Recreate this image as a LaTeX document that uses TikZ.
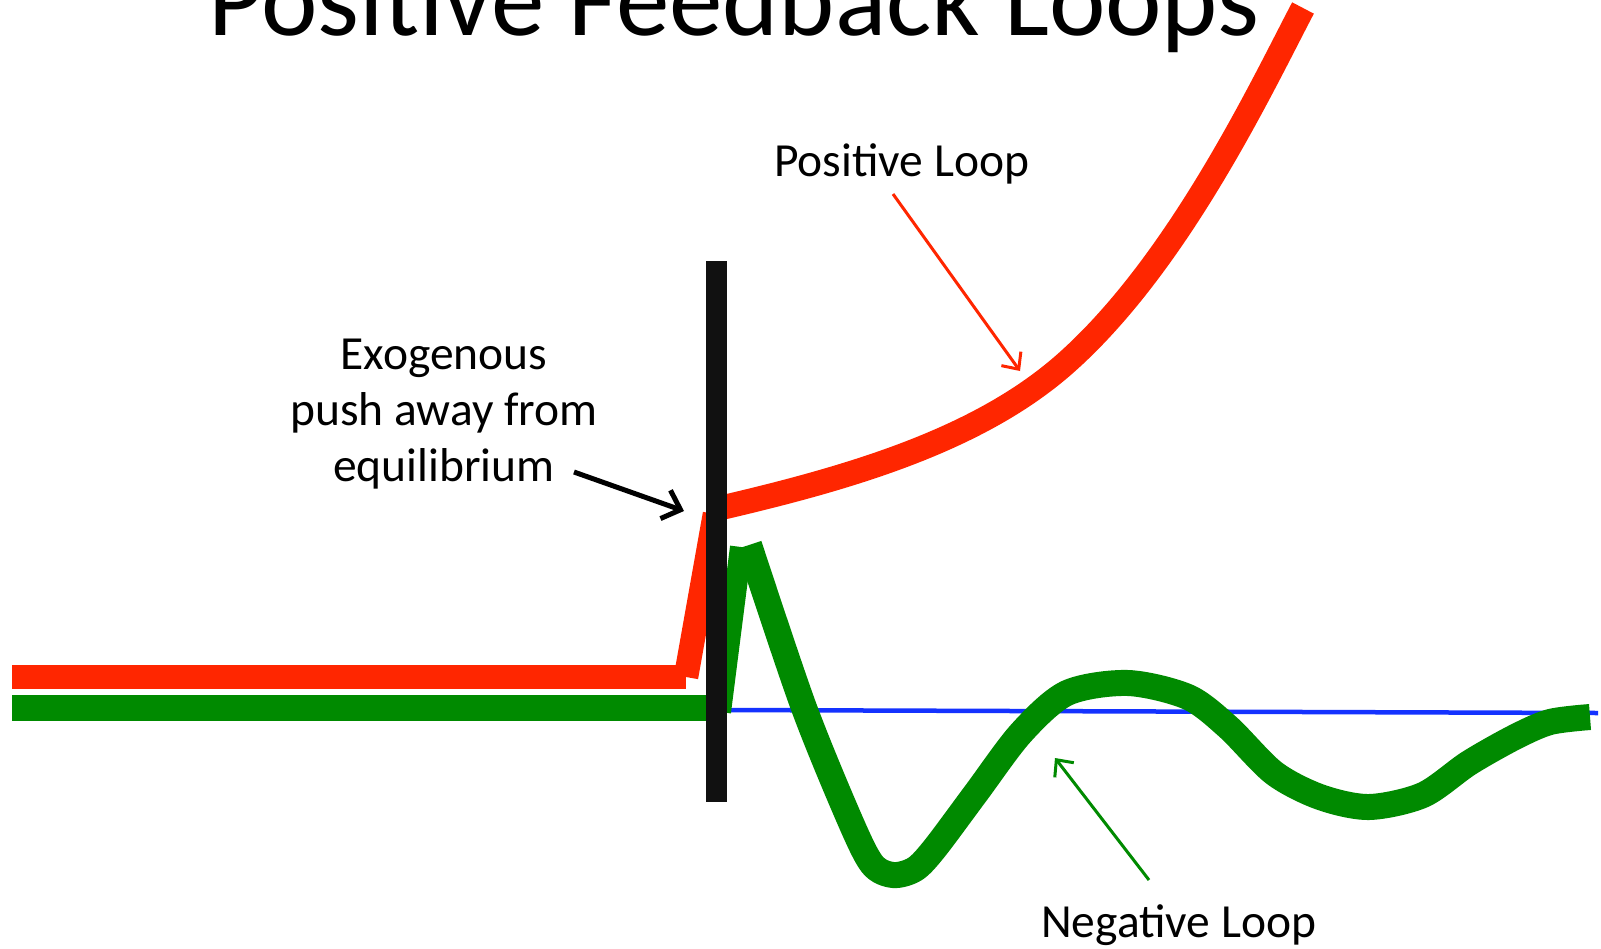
\documentclass[tikz,border=0pt]{standalone}
\usepackage{fontspec}
\setmainfont{Carlito}
\usetikzlibrary{arrows.meta}
\definecolor{redloop}{RGB}{255,38,0}
\definecolor{greenloop}{RGB}{0,138,0}
\definecolor{barblack}{RGB}{17,17,17}
\definecolor{eqblue}{RGB}{20,50,255}
\begin{document}
\begin{tikzpicture}[x=1pt,y=-1pt,
  redline/.style={draw=redloop,line width=24.5pt,line cap=butt,line join=round},
  greenline/.style={draw=greenloop,line width=26pt,line cap=butt,line join=round},
  label/.style={inner sep=0pt,font=\fontsize{47.5}{56}\selectfont},
  pointer/.style={line width=3pt,-{Straight Barb[length=13pt,width=24pt,line width=3pt]}}]
\useasboundingbox (0,0) rectangle (1601,948);
\clip (0,0) rectangle (1601,948);
\fill[white] (0,0) rectangle (1601,948);

% title
\node[anchor=base west,inner sep=0pt,font=\fontsize{107}{120}\selectfont] (title) at (208,35) {Positive Feedback Loops};

% equilibrium line
\draw[eqblue,line width=4.5pt] (720,710) -- (1598,713);

% red curve (positive loop)
\draw[redline] (12,677) -- (686,677);
\draw[redline] (686,677) -- (715,514);
\draw[redline] (716,509) .. controls (850,478) and (980,440) .. (1067,362)
                        .. controls (1180,261) and (1263,84) .. (1303,8);

% green curve (negative loop)
\draw[greenline] (12,708) -- (716,708);
\draw[greenline,line width=22pt] (720,712) -- (741,547);
\draw[greenline] plot[smooth,tension=0.5] coordinates {(749,545) (803,705) (849,818) (872,864) (893,875) (915,869) (935,848) (976,793) (1021,733) (1067,693) (1128,683) (1188,697) (1228,727) (1274,773) (1320,797) (1369,807) (1423,795) (1469,763) (1515,737) (1550,722) (1590,717)};

% exogenous push bar
\draw[barblack,line width=21pt] (716,261) -- (716,802);

% labels
\node[label,anchor=base west] (posl) at (774,176) {Positive Loop};
\node[label,anchor=base west] (negl) at (1041,937) {Negative Loop};
\node[label,anchor=base,align=center] (exo) at (444,481) {Exogenous\\push away from\\equilibrium};

% pointers
\coordinate (posTail) at (893,194);
\coordinate (posTip) at (1020,371);
\coordinate (negTail) at (1149,880);
\coordinate (negTip) at (1055,758);
\coordinate (exoTail) at (574,472);
\coordinate (exoTip) at (684,511);
\draw[pointer,redloop] (posTail) -- (posTip);
\draw[pointer,greenloop] (negTail) -- (negTip);
\draw[pointer,black,line width=5pt,-{Straight Barb[length=16pt,width=30pt,line width=5pt]}] (exoTail) -- (exoTip);
\end{tikzpicture}
\end{document}
